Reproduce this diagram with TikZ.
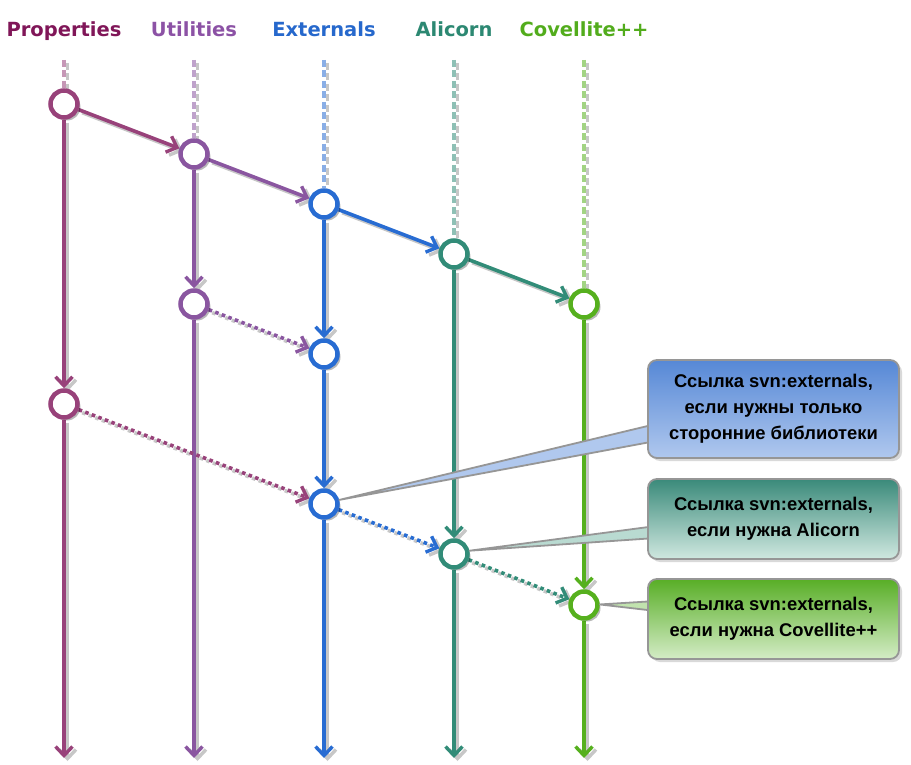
\documentclass[tikz,border=0pt]{standalone}
\usepackage{fontspec}
\setmainfont{Liberation Sans}
\newfontfamily\hdrfont{DejaVu Sans}
\usetikzlibrary{arrows.meta,shadows,calc}
\definecolor{cPh}{RGB}{128,22,88}
\definecolor{cP}{RGB}{152,66,122}
\definecolor{cUh}{RGB}{140,82,165}
\definecolor{cU}{RGB}{138,86,160}
\definecolor{cEh}{RGB}{38,104,204}
\definecolor{cE}{RGB}{40,108,210}
\definecolor{cAh}{RGB}{44,136,114}
\definecolor{cA}{RGB}{50,140,120}
\definecolor{cCh}{RGB}{82,172,28}
\definecolor{cC}{RGB}{86,176,30}
\definecolor{b1t}{RGB}{86,136,214}
\definecolor{b1b}{RGB}{176,200,238}
\definecolor{b2t}{RGB}{58,138,122}
\definecolor{b2b}{RGB}{208,232,224}
\definecolor{b3t}{RGB}{88,174,38}
\definecolor{b3b}{RGB}{212,236,198}
\definecolor{brd}{RGB}{150,150,150}
\pgfdeclarelayer{shadowlayer}
\pgfdeclarelayer{edgelayer}
\pgfsetlayers{shadowlayer,edgelayer,main}
\newcommand\alledges{%
  % dashed tops
  \draw[eP,dashtop] (Ptop) -- (P1);
  \draw[eU,dashtop] (Utop) -- (U1);
  \draw[eE,dashtop] (Etop) -- (E1);
  \draw[eA,dashtop] (Atop) -- (A1);
  \draw[eC,dashtop] (Ctop) -- (C1);
  % verticals
  \draw[eP,solidln] (P1) -- (P2);
  \draw[eP,solidln] (P2) -- (Pend);
  \draw[eU,solidln] (U1) -- (U2);
  \draw[eU,solidln] (U2) -- (Uend);
  \draw[eE,solidln] (E1) -- (E2);
  \draw[eE,solidln] (E2) -- (E3);
  \draw[eE,solidln] (E3) -- (Eend);
  \draw[eA,solidln] (A1) -- (A2);
  \draw[eA,solidln] (A2) -- (Aend);
  \draw[eC,solidln] (C1) -- (C2);
  \draw[eC,solidln] (C2) -- (Cend);
  % diagonals
  \draw[eP,solidln] (P1) -- (U1);
  \draw[eU,solidln] (U1) -- (E1);
  \draw[eE,solidln] (E1) -- (A1);
  \draw[eA,solidln] (A1) -- (C1);
  \draw[eU,dotln] (U2) -- (E2);
  \draw[eP,dotln] (P2) -- (E3);
  \draw[eE,dotln] (E3) -- (A2);
  \draw[eA,dotln] (A2) -- (C2);
}
\begin{document}
\begin{tikzpicture}[x=1pt,y=-1pt,
  hdr/.style={font=\hdrfont\bfseries\fontsize{19.5}{22}\selectfont, anchor=base, inner sep=0pt},
  vnode/.style={circle, fill=white, line width=4.5pt, minimum size=27pt, inner sep=0pt,
     drop shadow={shadow xshift=3pt, shadow yshift=-3pt, opacity=0.28, fill=black}},
  tipstyle/.style={-{Straight Barb[length=9pt,width=17pt,line width=3.4pt]}},
  solidln/.style={line width=3.6pt, tipstyle},
  dotln/.style={line width=3.6pt, dash pattern=on 3.6pt off 3.4pt, tipstyle},
  dashtop/.style={line width=3.6pt, dash pattern=on 7pt off 3.5pt},
  eP/.style={draw=cP}, eU/.style={draw=cU}, eE/.style={draw=cE}, eA/.style={draw=cA}, eC/.style={draw=cC},
  callout/.style={draw=brd, line width=1.8pt, rounded corners=9pt, minimum width=251pt,
     align=center, inner sep=0pt, font=\bfseries\fontsize{18.4}{26}\selectfont,
     drop shadow={shadow xshift=3pt, shadow yshift=-3pt, opacity=0.3}},
  ptr/.style={draw=brd, line width=1.8pt, line join=round}
]
\useasboundingbox (0,0) rectangle (911,765);
% headers
\node[hdr, text=cPh] (hP) at (64,37) {Properties};
\node[hdr, text=cUh] (hU) at (194,37) {Utilities};
\node[hdr, text=cEh] (hE) at (324,37) {Externals};
\node[hdr, text=cAh] (hA) at (454,37) {Alicorn};
\node[hdr, text=cCh] (hC) at (584,37) {Covellite++};
% coordinates
\coordinate (Ptop) at (64,60);
\coordinate (Utop) at (194,60);
\coordinate (Etop) at (324,60);
\coordinate (Atop) at (454,60);
\coordinate (Ctop) at (584,60);
\coordinate (Pend) at (64,758);
\coordinate (Uend) at (194,758);
\coordinate (Eend) at (324,758);
\coordinate (Aend) at (454,758);
\coordinate (Cend) at (584,758);
% commit nodes
\node[vnode, draw=cP] (P1) at (64,104) {};
\node[vnode, draw=cU] (U1) at (194,154) {};
\node[vnode, draw=cE] (E1) at (324,204) {};
\node[vnode, draw=cA] (A1) at (454,254) {};
\node[vnode, draw=cC] (C1) at (584,304) {};
\node[vnode, draw=cU] (U2) at (194,304) {};
\node[vnode, draw=cE] (E2) at (324,354) {};
\node[vnode, draw=cP] (P2) at (64,404) {};
\node[vnode, draw=cE] (E3) at (324,504) {};
\node[vnode, draw=cA] (A2) at (454,554) {};
\node[vnode, draw=cC] (C2) at (584,605) {};
% edges
\begin{pgfonlayer}{edgelayer}
  \tikzset{dashtop/.append style={draw opacity=0.55}}
  \alledges
\end{pgfonlayer}
\begin{pgfonlayer}{shadowlayer}
  \begin{scope}[transform canvas={xshift=3.5pt,yshift=-3pt}]
  \tikzset{eP/.style={draw=black!22}, eU/.style={draw=black!22}, eE/.style={draw=black!22},
           eA/.style={draw=black!22}, eC/.style={draw=black!22}}
  \alledges
  \end{scope}
\end{pgfonlayer}
% callout pointers
\coordinate (k1a) at (656,424);
\coordinate (k1b) at (656,441);
\coordinate (k2a) at (656,526);
\coordinate (k2b) at (656,538);
\coordinate (k3a) at (656,601);
\coordinate (k3b) at (656,611);
\draw[ptr, fill=b1b] (E3.15) -- (k1a) -- (k1b) -- cycle;
\draw[ptr, fill=b2b!85!b2t] (A2.12) -- (k2a) -- (k2b) -- cycle;
\draw[ptr, fill=b3b!85!b3t] (C2.2) -- (k3a) -- (k3b) -- cycle;
% callout boxes
\node[callout, top color=b1t, bottom color=b1b, minimum height=98pt] (B1) at (773.5,409)
  {Ссылка svn:externals,\\если нужны только\\сторонние библиотеки};
\node[callout, top color=b2t, bottom color=b2b, minimum height=80pt] (B2) at (773.5,519)
  {Ссылка svn:externals,\\если нужна Alicorn};
\node[callout, top color=b3t, bottom color=b3b, minimum height=80pt] (B3) at (773.5,619)
  {Ссылка svn:externals,\\если нужна Covellite++};
\end{tikzpicture}
\end{document}
